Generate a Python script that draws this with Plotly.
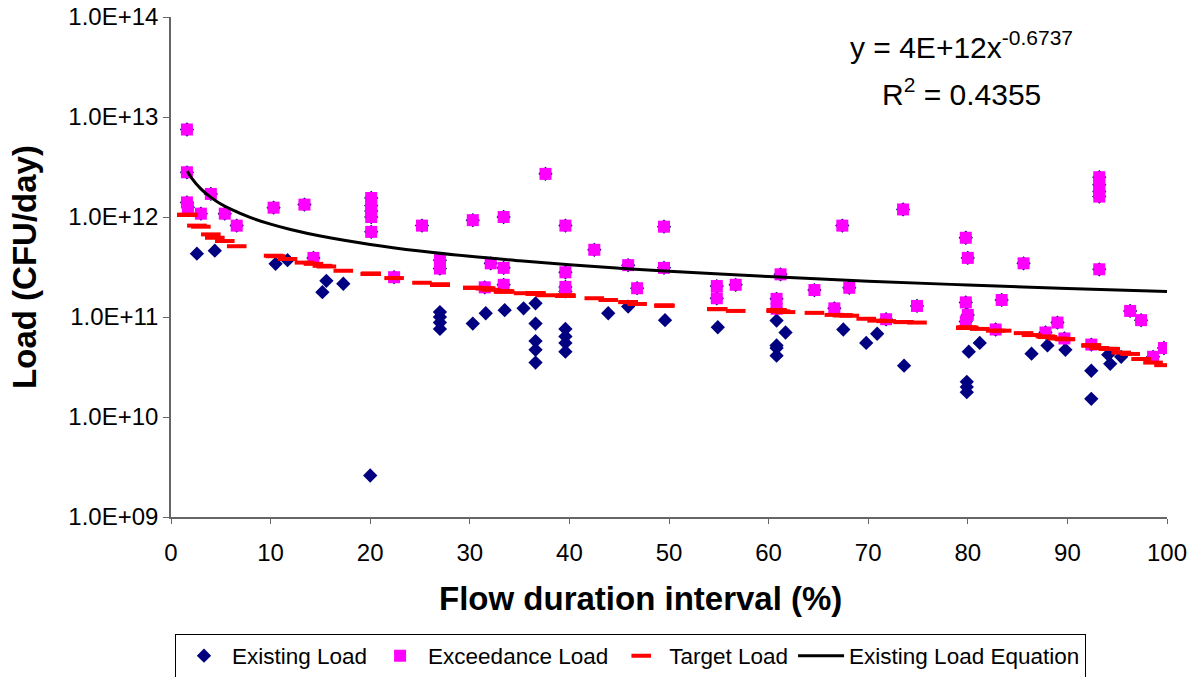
import plotly.graph_objects as go

# ---- data ----
flow_pct = [1.6, 1.6, 1.6, 1.7, 2.6, 3.0, 4.0, 4.4, 5.4, 6.6,
            10.3, 10.5, 11.7, 13.4, 14.3, 15.2, 15.6, 17.3,
            20.0, 20.1, 20.1, 20.1, 20.1, 20.1, 22.4, 25.2,
            27.0, 27.0, 27.0, 27.0, 27.0, 27.0, 30.3, 30.3, 31.5, 31.6, 32.1,
            33.4, 33.4, 33.4, 33.5, 35.4, 36.6, 36.6, 36.6, 36.6, 36.6, 37.6,
            39.6, 39.6, 39.6, 39.6, 39.6, 39.6, 39.6, 39.6,
            42.5, 43.9, 45.9, 45.9, 46.8, 49.5, 49.5, 49.6,
            54.8, 54.8, 54.9, 56.7,
            60.8, 60.8, 60.8, 60.8, 60.8, 60.8, 61.2, 61.7, 64.6, 66.6, 67.4, 67.5, 68.1,
            69.8, 70.9, 71.8, 73.5, 73.6, 74.9,
            79.8, 80.0, 79.8, 80.0, 79.8, 80.1, 79.9, 79.9, 79.9,
            81.2, 82.8, 83.4, 85.6, 86.4, 87.8, 88.0, 89.0, 89.7, 89.8,
            92.4, 92.4, 92.4, 93.2, 93.2, 93.2, 93.2, 93.2,
            94.1, 94.3, 95.4, 96.3, 97.4, 98.6, 99.7]

existing_load = [7.5e12, 2.8e12, 1.4e12, 1.25e12, 4.3e11, 1.08e12, 1.7e12, 4.6e11, 1.08e12, 8.2e11,
                 1.24e12, 3.4e11, 3.7e11, 1.33e12, 3.9e11, 1.77e11, 2.3e11, 2.15e11,
                 2.6e9, 1.55e12, 1.3e12, 1.15e12, 1.0e12, 7.1e11, 2.5e11, 8.2e11,
                 3.7e11, 3.05e11, 1.12e11, 1.0e11, 8.8e10, 7.6e10, 9.3e11, 8.6e10, 1.98e11, 1.09e11, 3.44e11,
                 1.0e12, 3.1e11, 2.1e11, 1.17e11, 1.22e11, 1.37e11, 8.6e10, 5.75e10, 4.7e10, 3.5e10, 2.7e12,
                 8.2e11, 2.8e11, 2.0e11, 1.8e11, 7.6e10, 6.4e10, 5.5e10, 4.5e10,
                 4.7e11, 1.09e11, 3.3e11, 1.27e11, 1.94e11, 8.0e11, 3.1e11, 9.3e10,
                 2.04e11, 1.54e11, 7.9e10, 2.1e11,
                 1.52e11, 1.21e11, 9.2e10, 5.2e10, 4.9e10, 4.1e10, 2.67e11, 7.0e10, 1.86e11, 1.22e11, 8.2e11, 7.5e10, 1.96e11,
                 5.5e10, 6.8e10, 9.5e10, 1.19e12, 3.26e10, 1.29e11,
                 6.2e11, 3.9e11, 1.4e11, 1.05e11, 9.0e10, 4.5e10, 2.25e10, 2.0e10, 1.77e10,
                 5.5e10, 7.5e10, 1.48e11, 3.44e11, 4.3e10, 7.0e10, 5.2e10, 8.8e10, 6.1e10, 4.7e10,
                 5.3e10, 2.9e10, 1.52e10, 2.5e12, 2.1e12, 1.8e12, 1.6e12, 3.0e11,
                 4.2e10, 3.4e10, 4.0e10, 1.15e11, 9.3e10, 4.0e10, 4.9e10]

target_load = [1.05e12, 1.05e12, 1.05e12, 1.05e12, 8.2e11, 8.0e11, 6.7e11, 6.2e11, 5.75e11, 5.1e11,
               4.1e11, 4.05e11, 3.8e11, 3.5e11, 3.4e11, 3.25e11, 3.2e11, 2.9e11,
               2.7e11, 2.7e11, 2.7e11, 2.7e11, 2.7e11, 2.7e11, 2.45e11, 2.2e11,
               2.1e11, 2.1e11, 2.1e11, 2.1e11, 2.1e11, 2.1e11, 1.96e11, 1.96e11, 1.94e11, 1.93e11, 1.87e11,
               1.8e11, 1.8e11, 1.8e11, 1.8e11, 1.73e11, 1.72e11, 1.72e11, 1.72e11, 1.72e11, 1.72e11, 1.65e11,
               1.63e11, 1.63e11, 1.63e11, 1.63e11, 1.63e11, 1.63e11, 1.63e11, 1.63e11,
               1.54e11, 1.48e11, 1.41e11, 1.41e11, 1.35e11, 1.3e11, 1.3e11, 1.3e11,
               1.2e11, 1.2e11, 1.2e11, 1.15e11,
               1.16e11, 1.16e11, 1.16e11, 1.16e11, 1.16e11, 1.16e11, 1.14e11, 1.12e11, 1.1e11, 1.05e11, 1.04e11, 1.04e11, 1.03e11,
               9.6e10, 9.2e10, 9.1e10, 8.9e10, 8.9e10, 8.8e10,
               7.8e10, 7.8e10, 7.8e10, 7.8e10, 7.8e10, 7.8e10, 7.8e10, 7.8e10, 7.8e10,
               7.6e10, 7.3e10, 7.3e10, 6.9e10, 6.6e10, 6.4e10, 6.3e10, 6.1e10, 6.0e10, 6.0e10,
               5.2e10, 5.2e10, 5.2e10, 4.9e10, 4.9e10, 4.9e10, 4.9e10, 4.9e10,
               4.8e10, 4.8e10, 4.4e10, 4.27e10, 3.8e10, 3.5e10, 3.3e10]

# Existing-load trendline
trend_flow = [1.64, 2, 3, 4, 5, 6, 8, 10, 12, 15, 20, 25, 30, 35, 40, 45, 50, 60, 70, 80, 90, 100]
trend_load = [2.87e12, 2.51e12, 1.91e12, 1.57e12, 1.35e12, 1.20e12, 9.86e11, 8.48e11, 7.50e11,
              6.45e11, 5.32e11, 4.57e11, 4.04e11, 3.65e11, 3.33e11, 3.08e11, 2.87e11,
              2.54e11, 2.28e11, 2.09e11, 1.93e11, 1.80e11]

y_tick_vals = [1e9, 1e10, 1e11, 1e12, 1e13, 1e14]
y_tick_text = ["1.0E+09", "1.0E+10", "1.0E+11", "1.0E+12", "1.0E+13", "1.0E+14"]
x_tick_vals = [0, 10, 20, 30, 40, 50, 60, 70, 80, 90, 100]

# exceedance = existing samples above the target
exceed_load = [e if e > t else None for e, t in zip(existing_load, target_load)]

FONT = "Arial, Liberation Sans, sans-serif"

fig = go.Figure()
fig.add_trace(go.Scatter(
    x=flow_pct, y=existing_load, mode="markers", name="Existing Load",
    marker=dict(symbol="diamond", size=11, color="#000080")))
fig.add_trace(go.Scatter(
    x=flow_pct, y=exceed_load, mode="markers", name="Exceedance Load",
    marker=dict(symbol="square", size=12, color="#FF00FF")))
fig.add_trace(go.Scatter(
    x=flow_pct, y=target_load, mode="markers", name="Target Load",
    marker=dict(symbol="line-ew", size=14, color="#FF0000",
                line=dict(color="#FF0000", width=4))))
fig.add_trace(go.Scatter(
    x=trend_flow, y=trend_load, mode="lines", name="Existing Load Equation",
    line=dict(color="black", width=3), line_shape="spline"))

fig.add_annotation(x=(961 - 171) / 996, y=(517 - 45) / 500, xref="paper", yref="paper",
                   xanchor="center", yanchor="middle",
                   showarrow=False, text="y = 4E+12x<sup>-0.6737</sup>",
                   font=dict(size=30, family=FONT, color="black"))
fig.add_annotation(x=(961 - 171) / 996, y=(517 - 92) / 500, xref="paper", yref="paper",
                   xanchor="center", yanchor="middle",
                   showarrow=False, text="R<sup>2</sup> = 0.4355",
                   font=dict(size=30, family=FONT, color="black"))
# x-axis title (placed as in the reference, slightly left of the plot centre)
fig.add_annotation(x=(640 - 171) / 996, y=(517 - 598) / 500, xref="paper", yref="paper",
                   xanchor="center", yanchor="middle",
                   showarrow=False, text="<b>Flow duration interval (%)</b>",
                   font=dict(size=33, family=FONT, color="black"))

fig.update_layout(
    width=1198, height=677,
    margin=dict(l=171, r=31, t=17, b=160, autoexpand=False),
    paper_bgcolor="white", plot_bgcolor="white",
    font=dict(family=FONT, color="black"),
    showlegend=True,
    legend=dict(orientation="h", x=0.004, y=(517 - 656) / 500, xanchor="left", yanchor="middle",
                bordercolor="black", borderwidth=1, font=dict(size=22.5, family=FONT),
                itemwidth=46, tracegroupgap=0),
    xaxis=dict(range=[0, 100], tickvals=x_tick_vals, showgrid=False, zeroline=False,
               showline=True, linecolor="#666666", linewidth=1.5,
               ticks="outside", ticklen=5, tickcolor="#666666",
               ticklabelstandoff=8,
               tickfont=dict(size=24, family=FONT)),
    yaxis=dict(type="log", range=[9, 14], tickvals=y_tick_vals, ticktext=y_tick_text,
               showgrid=False, zeroline=False,
               showline=True, linecolor="#666666", linewidth=1.5,
               ticks="outside", ticklen=6, tickcolor="#666666",
               tickfont=dict(size=24, family=FONT),
               title=dict(text="<b>Load (CFU/day)</b>", font=dict(size=33, family=FONT), standoff=22)),
)

fig.write_html("out.html")
